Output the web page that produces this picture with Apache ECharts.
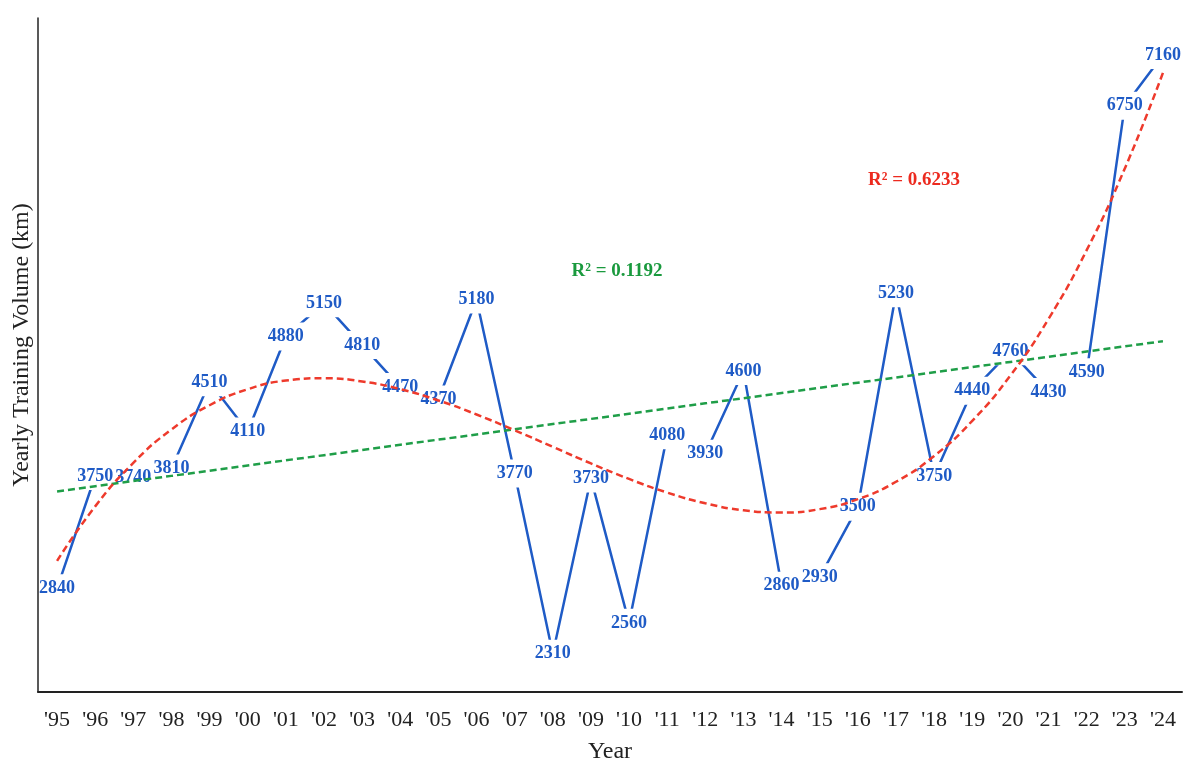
<!DOCTYPE html>
<html>
<head>
<meta charset="utf-8">
<script src="https://cdn.jsdelivr.net/npm/echarts@6/dist/echarts.min.js"></script>
<style>
  html, body { margin: 0; padding: 0; background: #fff; }
  #chart { width: 1192px; height: 768px; }
</style>
</head>
<body>
<div id="chart"></div>
<script>
// Yearly training volume, 1995–2024
const years = ["'95","'96","'97","'98","'99","'00","'01","'02","'03","'04","'05","'06","'07","'08","'09",
               "'10","'11","'12","'13","'14","'15","'16","'17","'18","'19","'20","'21","'22","'23","'24"];
const volumeKm = [2840, 3750, 3740, 3810, 4510, 4110, 4880, 5150, 4810, 4470, 4370, 5180, 3770, 2310, 3730,
                  2560, 4080, 3930, 4600, 2860, 2930, 3500, 5230, 3750, 4440, 4760, 4430, 4590, 6750, 7160];
const yAxisTitle = 'Yearly Training Volume (km)';
const xAxisTitle = 'Year';
const linearR2Text = 'R² = 0.1192';
const polyR2Text = 'R² = 0.6233';

// Least-squares polynomial fit of the given degree; returns fitted values at each x
function polyFit(ys, degree) {
  const n = degree + 1;
  const A = Array.from({ length: n }, () => new Array(n + 1).fill(0));
  ys.forEach((y, i) => {
    const x = i + 1;
    for (let r = 0; r < n; r++) {
      for (let c = 0; c < n; c++) A[r][c] += Math.pow(x, r + c);
      A[r][n] += y * Math.pow(x, r);
    }
  });
  // Gauss-Jordan elimination with partial pivoting
  for (let p = 0; p < n; p++) {
    let best = p;
    for (let r = p + 1; r < n; r++) if (Math.abs(A[r][p]) > Math.abs(A[best][p])) best = r;
    [A[p], A[best]] = [A[best], A[p]];
    for (let r = 0; r < n; r++) {
      if (r === p) continue;
      const f = A[r][p] / A[p][p];
      for (let c = p; c <= n; c++) A[r][c] -= f * A[p][c];
    }
  }
  const coef = A.map((row, i) => row[n] / row[i]);
  return ys.map((_, i) => {
    const x = i + 1;
    return coef.reduce((s, k, j) => s + k * Math.pow(x, j), 0);
  });
}

const linearTrend = polyFit(volumeKm, 1);
const cubicTrend = polyFit(volumeKm, 3);

const serif = 'Liberation Serif, Times New Roman, serif';
const chart = echarts.init(document.getElementById('chart'));

chart.setOption({
  animation: false,
  backgroundColor: '#fff',
  grid: { left: 38, right: 10, top: 18, bottom: 76, outerBoundsMode: 'none', containLabel: false },
  xAxis: {
    type: 'category',
    data: years,
    boundaryGap: true,
    z: 10,
    name: xAxisTitle,
    nameLocation: 'middle',
    nameGap: 48,
    nameTextStyle: { fontFamily: serif, fontSize: 24, color: '#222' },
    axisLine: { lineStyle: { color: '#222', width: 2 } },
    axisTick: { show: false },
    axisLabel: { fontFamily: serif, fontSize: 22, color: '#222', margin: 17, interval: 0 },
    splitLine: { show: false }
  },
  yAxis: {
    type: 'value',
    min: 2000,
    max: 7460,
    z: 10,
    axisLine: { show: true, lineStyle: { color: '#222', width: 1.5 } },
    axisTick: { show: false },
    axisLabel: { show: false },
    splitLine: { show: false }
  },
  series: [
    {
      name: 'Yearly volume',
      type: 'line',
      data: volumeKm,
      z: 2,
      symbol: 'circle',
      symbolSize: 1,
      showSymbol: true,
      itemStyle: { color: '#1f5bc6' },
      lineStyle: { color: '#1f5bc6', width: 2.5 },
      label: {
        show: true,
        position: 'inside',
        color: '#1f5bc6',
        fontFamily: serif,
        fontWeight: 'bold',
        fontSize: 18,
        backgroundColor: '#fff',
        padding: [5, 2, 5, 2]
      },
      emphasis: { disabled: true }
    },
    {
      name: 'Linear trend',
      type: 'line',
      data: linearTrend,
      z: 4,
      symbol: 'none',
      lineStyle: { color: '#1f9e48', width: 2.5, type: [7, 4] },
      emphasis: { disabled: true }
    },
    {
      name: 'Polynomial trend',
      type: 'line',
      data: cubicTrend,
      z: 4,
      smooth: true,
      symbol: 'none',
      lineStyle: { color: '#ee3a2c', width: 2.5, type: [7, 4] },
      emphasis: { disabled: true }
    }
  ],
  graphic: [
    {
      type: 'text', x: 22, y: 345, rotation: Math.PI / 2,
      style: { text: yAxisTitle, fill: '#222', font: '24px ' + serif, align: 'center', verticalAlign: 'middle' }
    },
    {
      type: 'text', x: 617, y: 271,
      style: { text: linearR2Text, fill: '#1a9a3e', font: 'bold 19px ' + serif, align: 'center', verticalAlign: 'middle' }
    },
    {
      type: 'text', x: 914, y: 180,
      style: { text: polyR2Text, fill: '#ec2a1f', font: 'bold 19px ' + serif, align: 'center', verticalAlign: 'middle' }
    }
  ]
});
</script>
</body>
</html>
